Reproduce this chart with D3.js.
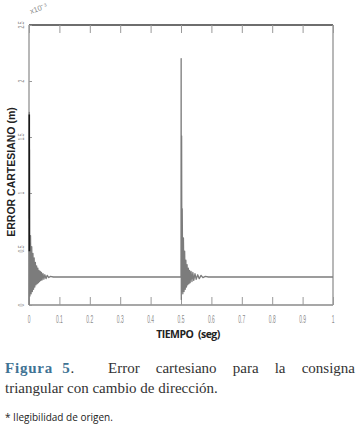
<!DOCTYPE html>
<html>
<head>
<meta charset="utf-8">
<script src="https://cdn.jsdelivr.net/npm/d3@7"></script>
<style>
  body { margin: 0; background: #fff; }
  svg { display: block; }
</style>
</head>
<body>
<div id="chart"></div>
<script>
// error cartesiano (x10^-3 m) vs tiempo (seg)
const time = [0, 0.001, 0.002, 0.003, 0.005, 0.007, 0.009, 0.011, 0.013, 0.015, 0.017, 0.019,
  0.021, 0.023, 0.025, 0.027, 0.029, 0.031, 0.033, 0.035, 0.037, 0.039, 0.041, 0.043, 0.046,
  0.049, 0.052, 0.056, 0.060, 0.065, 0.070, 0.080, 0.499,
  0.500, 0.5005, 0.501, 0.502, 0.503, 0.504, 0.506, 0.508, 0.510, 0.512, 0.514, 0.516, 0.518,
  0.520, 0.522, 0.524, 0.526, 0.528, 0.530, 0.533, 0.536, 0.539, 0.542, 0.546, 0.550, 0.555,
  0.560, 0.566, 0.572, 0.580, 0.590, 1.0];
const error = [0, 1.72, 0.60, 0.08, 0.62, 0.10, 0.52, 0.12, 0.46, 0.14, 0.42, 0.16,
  0.38, 0.18, 0.35, 0.19, 0.33, 0.20, 0.31, 0.21, 0.30, 0.22, 0.29, 0.225, 0.28,
  0.23, 0.27, 0.235, 0.265, 0.245, 0.255, 0.25, 0.25,
  0.25, 2.20, 0.05, 1.51, 0.12, 0.86, 0.10, 0.60, 0.12, 0.48, 0.14, 0.40, 0.16,
  0.36, 0.18, 0.33, 0.19, 0.31, 0.20, 0.30, 0.21, 0.29, 0.22, 0.28, 0.23, 0.27,
  0.235, 0.265, 0.245, 0.255, 0.25, 0.25];

// darker stroke on the first peak
const peakTime = [0.0009, 0.0012];
const peakError = [1.70, 0.48];

const xTicks = [0, 0.1, 0.2, 0.3, 0.4, 0.5, 0.6, 0.7, 0.8, 0.9, 1];
const yTicks = [0, 0.5, 1, 1.5, 2, 2.5];

const width = 359, height = 435;
const plotLeft = 29, plotRight = 333, plotTop = 25, plotBottom = 305;

const svg = d3.select("#chart").append("svg")
  .attr("width", width).attr("height", height);

const x = d3.scaleLinear().domain([0, 1]).range([plotLeft, plotRight]);
const y = d3.scaleLinear().domain([0, 2.5]).range([plotBottom, plotTop]);

const fmt = d => d === 0 ? "0" : String(d);

// frame
svg.append("line").attr("x1", plotLeft).attr("x2", plotRight).attr("y1", plotTop).attr("y2", plotTop)
  .attr("stroke", "#6e6e6e").attr("stroke-width", 2);
svg.append("line").attr("x1", plotLeft).attr("x2", plotRight).attr("y1", plotBottom).attr("y2", plotBottom)
  .attr("stroke", "#8a8a8a").attr("stroke-width", 1.6);
svg.append("line").attr("x1", plotLeft).attr("x2", plotLeft).attr("y1", plotTop).attr("y2", plotBottom)
  .attr("stroke", "#9a9a9a").attr("stroke-width", 1.4);
svg.append("line").attr("x1", plotRight).attr("x2", plotRight).attr("y1", plotTop).attr("y2", plotBottom)
  .attr("stroke", "#9a9a9a").attr("stroke-width", 1.4);

// ticks
const bottomAxis = d3.axisBottom(x).tickValues(xTicks).tickSize(-8).tickFormat("");
const gb = svg.append("g").attr("transform", `translate(0,${plotBottom})`).call(bottomAxis);
const topAxis = d3.axisTop(x).tickValues(xTicks).tickSize(-8).tickFormat("");
const gt = svg.append("g").attr("transform", `translate(0,${plotTop})`).call(topAxis);
const leftAxis = d3.axisLeft(y).tickValues(yTicks).tickSize(-3).tickFormat("");
const gl = svg.append("g").attr("transform", `translate(${plotLeft},0)`).call(leftAxis);
[gb, gt, gl].forEach(g => {
  g.select(".domain").remove();
  g.selectAll(".tick line").attr("stroke", "#999").attr("stroke-width", 1);
});

// tick labels (small, condensed, grey)
svg.append("g").selectAll("text").data(xTicks).join("text")
  .attr("transform", d => `translate(${x(d)},${plotBottom + 18}) scale(0.55,1.15)`)
  .attr("text-anchor", "middle")
  .attr("font-family", "Liberation Sans, Arial, sans-serif")
  .attr("font-size", 9).attr("fill", "#8a8a8a")
  .text(fmt);

svg.append("g").selectAll("text").data(yTicks).join("text")
  .attr("transform", d => `translate(${plotLeft - 5},${y(d)}) rotate(-90) scale(0.6,1)`)
  .attr("text-anchor", "middle")
  .attr("font-family", "Liberation Sans, Arial, sans-serif")
  .attr("font-size", 8.5).attr("fill", "#8a8a8a")
  .text(fmt);

svg.append("text")
  .attr("transform", `translate(${plotLeft + 2},${plotTop - 11}) rotate(-20)`)
  .attr("font-family", "Liberation Sans, Arial, sans-serif")
  .attr("font-size", 7.5).attr("fill", "#8a8a8a")
  .text("x10\u207B\u00B3");

// curve
const line = d3.line().x(d => x(d[0])).y(d => y(d[1]));
svg.append("path")
  .datum(d3.zip(time, error))
  .attr("fill", "none").attr("stroke", "#7c7c7c").attr("stroke-width", 1.3)
  .attr("stroke-linejoin", "round")
  .attr("d", line);
svg.append("path")
  .datum(d3.zip(peakTime, peakError))
  .attr("fill", "none").attr("stroke", "#1a1a1a").attr("stroke-width", 1.6)
  .attr("d", line);

// axis titles
svg.append("text")
  .attr("transform", `translate(15,172) rotate(-90)`)
  .attr("text-anchor", "middle")
  .attr("font-family", "Liberation Sans, Arial, sans-serif")
  .attr("font-weight", "bold").attr("font-size", 10.5).attr("fill", "#222")
  .text("ERROR CARTESIANO (m)");

svg.append("text")
  .attr("x", 188).attr("y", 338)
  .attr("text-anchor", "middle")
  .attr("font-family", "Open Sans, Liberation Sans, sans-serif")
  .attr("font-weight", "bold").attr("font-size", 10.5).attr("fill", "#222")
  .attr("letter-spacing", -0.5)
  .attr("xml:space", "preserve")
  .text("TIEMPO  (seg)");

// caption
const cap = svg.append("g")
  .attr("font-family", "Liberation Serif, DejaVu Serif, serif")
  .attr("font-size", 15).attr("fill", "#333");
const fig = cap.append("text").attr("x", 5).attr("y", 373).attr("xml:space", "preserve");
fig.append("tspan").attr("font-weight", "bold").attr("fill", "#3f7394").attr("letter-spacing", 0.8)
  .text("Figura  5");
fig.append("tspan").text(".");

// justified rest of first line
const words = ["Error", "cartesiano", "para", "la", "consigna"];
const lineStart = 108, lineEnd = 355;
const wordNodes = cap.selectAll("text.w").data(words).join("text").attr("class", "w")
  .attr("y", 373).text(d => d);
const widths = wordNodes.nodes().map(n => n.getComputedTextLength());
const gap = (lineEnd - lineStart - d3.sum(widths)) / (words.length - 1);
let cursor = lineStart;
wordNodes.attr("x", (d, i) => {
  const pos = cursor;
  cursor += widths[i] + gap;
  return pos;
});

cap.append("text").attr("x", 5).attr("y", 393)
  .text("triangular con cambio de dirección.");

svg.append("text").attr("x", 5).attr("y", 421)
  .attr("font-family", "Open Sans, Liberation Sans, sans-serif")
  .attr("font-size", 10).attr("fill", "#222")
  .text("* Ilegibilidad de origen.");
</script>
</body>
</html>
